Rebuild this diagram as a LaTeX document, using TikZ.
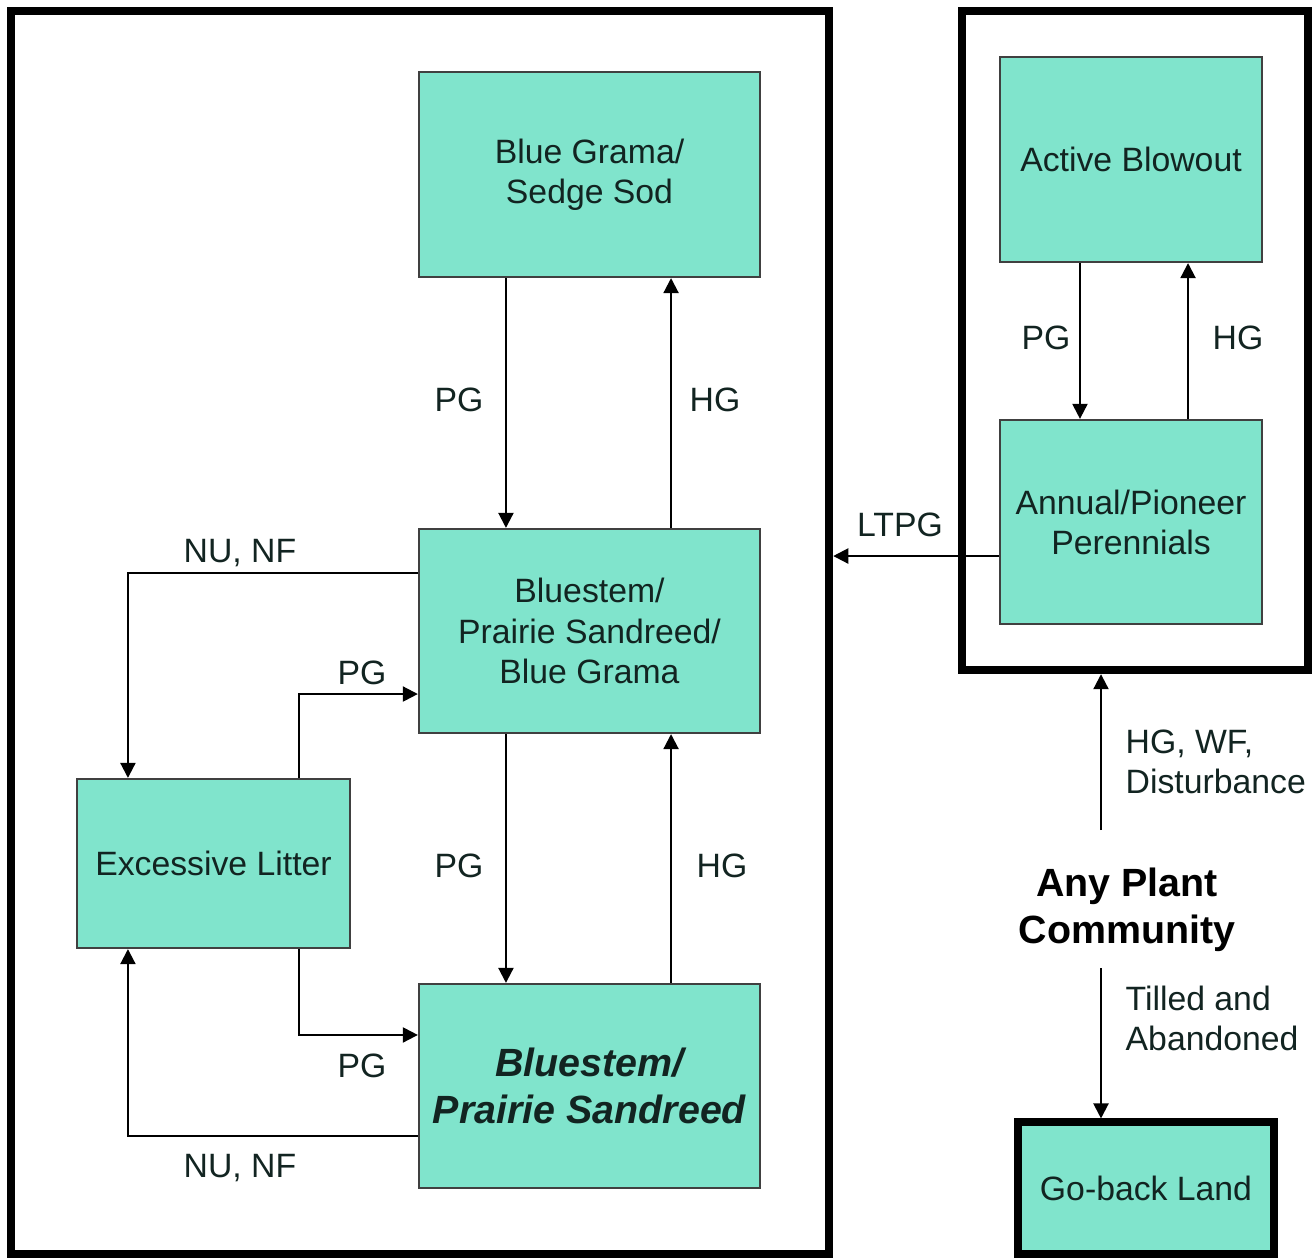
\documentclass[tikz,border=0pt]{standalone}
\usepackage{fontspec}
\setmainfont{Liberation Sans}
\usepackage{tikz}
\usetikzlibrary{arrows.meta, positioning, calc}
\definecolor{verdeagua}{RGB}{128,228,204}
\definecolor{texto}{RGB}{18,36,33}

\begin{document}
\begin{tikzpicture}[x=0.01cm,y=-0.01cm,
    font=\fontsize{9.6}{11.4}\selectfont,
    comunidade/.style={rectangle,draw=gray!50!black,line width=0.6pt,fill=verdeagua,
      text=texto,align=center,inner sep=0},
    moldura/.style={rectangle,draw,line width=0.08cm,inner sep=0},
    rotulo/.style={text=texto,inner sep=0},
    seta/.style={-{Triangle[length=0.15cm,width=0.15cm]},line width=0.6pt}]

  \useasboundingbox[fill=white] (0,0) rectangle (1315,1258);

  % molduras grossas
  \node[moldura,minimum width=8.18cm,minimum height=12.43cm] (painel) at (420,632.5) {};
  \node[moldura,minimum width=3.46cm,minimum height=6.59cm] (direita) at (1135,340.5) {};

  % comunidades do painel principal
  \node[comunidade,minimum width=3.41cm,minimum height=2.05cm] (sod) at (589.5,174.5)
    {Blue Grama/\\ Sedge Sod};
  \node[comunidade,minimum width=3.41cm,minimum height=2.04cm] (mista) at (589.5,631)
    {Bluestem/\\ Prairie Sandreed/\\ Blue Grama};
  \node[comunidade,minimum width=3.41cm,minimum height=2.04cm,
    font=\fontsize{11.2}{13.3}\selectfont\bfseries\itshape] (bps) at (589.5,1086)
    {Bluestem/\\ Prairie Sandreed};
  \node[comunidade,minimum width=2.73cm,minimum height=1.69cm] (litter) at (213.5,863.5)
    {Excessive Litter};

  % comunidades do lado direito
  \node[comunidade,minimum width=2.62cm,minimum height=2.05cm] (blowout) at (1131,159.5)
    {Active Blowout};
  \node[comunidade,minimum width=2.62cm,minimum height=2.04cm] (annual) at (1131,522)
    {Annual/Pioneer\\ Perennials};
  \node[comunidade,line width=0.08cm,draw=black,minimum width=2.56cm,minimum height=1.31cm]
    (goback) at (1146,1188) {Go-back Land};
  \node[align=center,font=\fontsize{11.2}{13.3}\selectfont\bfseries] (qualquer) at (1127,910)
    {Any Plant\\ Community};

  % transições verticais
  \draw[seta] ([xshift=-0.835cm]sod.south) -- ([xshift=-0.835cm]mista.north);
  \draw[seta] ([xshift=0.815cm]mista.north) -- ([xshift=0.815cm]sod.south);
  \draw[seta] ([xshift=-0.835cm]mista.south) -- ([xshift=-0.835cm]bps.north);
  \draw[seta] ([xshift=0.815cm]bps.north) -- ([xshift=0.815cm]mista.south);
  \node[rotulo] (pg1) at (459,400) {PG};
  \node[rotulo] (hg1) at (715,400) {HG};
  \node[rotulo] (pg2) at (459,866) {PG};
  \node[rotulo] (hg2) at (722,866) {HG};

  % transições com excesso de serapilheira
  \draw[seta] ([yshift=0.58cm]mista.west) -| ([xshift=-0.855cm]litter.north);
  \draw[seta] ([xshift=0.855cm]litter.north) |- ([yshift=-0.63cm]mista.west);
  \draw[seta] ([xshift=0.855cm]litter.south) |- ([yshift=0.51cm]bps.west);
  \draw[seta] ([yshift=-0.5cm]bps.west) -| ([xshift=-0.855cm]litter.south);
  \node[rotulo] (nu1) at (240,553) {NU, NF};
  \node[rotulo] (pg3) at (362,673) {PG};
  \node[rotulo] (pg4) at (362,1066) {PG};
  \node[rotulo] (nu2) at (240,1168) {NU, NF};

  % lado direito
  \draw[seta] ([xshift=-0.51cm]blowout.south) -- ([xshift=-0.51cm]annual.north);
  \draw[seta] ([xshift=0.57cm]annual.north) -- ([xshift=0.57cm]blowout.south);
  \node[rotulo] (pg5) at (1046,338) {PG};
  \node[rotulo] (hg3) at (1238,338) {HG};
  \coordinate (ltpg) at ([yshift=-0.34cm]annual.west);
  \draw[seta] (ltpg) -- (ltpg -| painel.east);
  \node[rotulo] (lt) at (900,525) {LTPG};

  \coordinate (sobe) at (1101,830);
  \draw[seta] (sobe) -- (sobe |- direita.south);
  \node[rotulo,align=left,anchor=west] (hgwf) at (1125,762) {HG, WF,\\ Disturbance};
  \coordinate (desce) at (1101,968);
  \draw[seta] (desce) -- (desce |- goback.north);
  \node[rotulo,align=left,anchor=west] (tilled) at (1125,1018) {Tilled and\\ Abandoned};
\end{tikzpicture}
\end{document}
